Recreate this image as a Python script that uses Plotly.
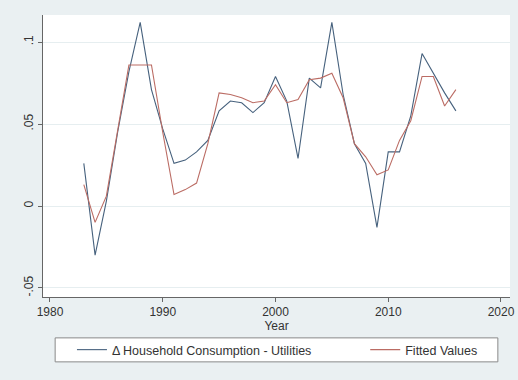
import plotly.graph_objects as go

years = list(range(1983, 2017))

utilities = [0.026, -0.030, 0.003, 0.045, 0.082, 0.112, 0.071, 0.047, 0.026, 0.028,
             0.033, 0.040, 0.058, 0.064, 0.063, 0.057, 0.063, 0.079, 0.064, 0.029,
             0.078, 0.072, 0.112, 0.068, 0.038, 0.026, -0.013, 0.033, 0.033, 0.055,
             0.093, 0.081, 0.069, 0.058]

fitted = [0.013, -0.010, 0.006, 0.045, 0.086, 0.086, 0.086, 0.045, 0.007, 0.010,
          0.014, 0.038, 0.069, 0.068, 0.066, 0.063, 0.064, 0.074, 0.063, 0.065,
          0.077, 0.078, 0.081, 0.066, 0.038, 0.030, 0.019, 0.022, 0.040, 0.052,
          0.079, 0.079, 0.061, 0.071]

x_ticks = [1980, 1990, 2000, 2010, 2020]
y_ticks = [-0.05, 0, 0.05, 0.1]
y_labels = ["-.05", "0", ".05", ".1"]

fig = go.Figure()
fig.add_trace(go.Scatter(
    x=years, y=utilities, mode="lines",
    name="\u0394 Household Consumption - Utilities",
    line=dict(color="#46617d", width=1.1),
    legend="legend"
))
fig.add_trace(go.Scatter(
    x=years, y=fitted, mode="lines",
    name="Fitted Values",
    line=dict(color="#bb6c64", width=1.1),
    legend="legend2"
))

# legend box like stata's, the two keys are placed inside it
fig.add_shape(type="rect", xref="paper", yref="paper",
              x0=0.026, x1=0.974, y0=-0.230, y1=-0.145,
              fillcolor="white", line=dict(color="#8a8a8a", width=1))

leg = dict(orientation="h", yanchor="middle", y=-0.188, xanchor="left",
           bgcolor="rgba(0,0,0,0)", borderwidth=0,
           font=dict(size=12.5, color="#333"))

fig.update_layout(
    width=518, height=380,
    margin=dict(l=43, r=8, t=15, b=83),
    paper_bgcolor="#eaf0f2",
    plot_bgcolor="white",
    font=dict(family="Liberation Sans, Arial, sans-serif", size=12, color="#333"),
    showlegend=True,
    legend=dict(leg, x=0.062),
    legend2=dict(leg, x=0.69),
    xaxis=dict(
        range=[1979.38, 2020.8], tickvals=x_ticks,
        ticks="outside", ticklen=4, tickcolor="#666",
        showgrid=False, zeroline=False, automargin=False,
        showline=True, linecolor="#666", linewidth=1,
        title=dict(text="Year", standoff=0, font=dict(size=12)),
    ),
    yaxis=dict(
        range=[-0.0555, 0.1165], tickvals=y_ticks, ticktext=y_labels,
        tickangle=-90, automargin=False,
        ticks="outside", ticklen=4, tickcolor="#666",
        showgrid=True, gridcolor="#e6eef0", gridwidth=1, zeroline=False,
        showline=True, linecolor="#666", linewidth=1,
    ),
)

# page body has a default 8px margin, drop it so the figure fills the window
fig.write_html("out.html", config={"displayModeBar": False},
               post_script="document.body.style.margin='0';")
